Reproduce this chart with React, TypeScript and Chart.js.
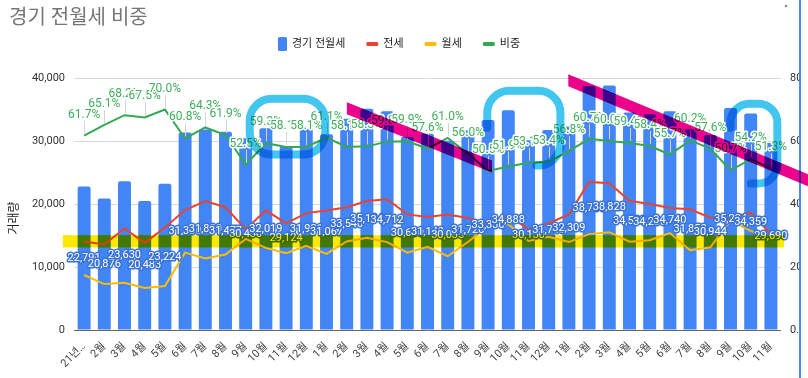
import React, { useEffect, useRef } from 'react';
import { Chart, registerables } from 'chart.js';

Chart.register(...registerables);

// ---------- data ----------
const categories = [
  '21년…', '2월', '3월', '4월', '5월', '6월', '7월', '8월', '9월', '10월', '11월', '12월',
  '1월', '2월', '3월', '4월', '5월', '6월', '7월', '8월', '9월', '10월', '11월', '12월',
  '1월', '2월', '3월', '4월', '5월', '6월', '7월', '8월', '9월', '10월', '11월',
];
const totalDeals = [
  22791, 20876, 23630, 20483, 23224, 31330, 31830, 31477, 30430, 32019, 29124, 31931,
  31067, 33540, 35134, 34712, 30630, 31140, 30035, 31720, 33330, 34888, 30130, 31740,
  32309, 38730, 38828, 34530, 34230, 34740, 31850, 30944, 35234, 34359, 29690,
];
const jeonseDeals = [
  14062, 13590, 16116, 13826, 16257, 19049, 20467, 19484, 15976, 18987, 16921, 18552,
  18982, 19487, 20483, 20758, 18347, 17937, 18321, 17763, 16832, 18107, 15999, 16949,
  18352, 23509, 23297, 20511, 19990, 19350, 19174, 17824, 17864, 18623, 15231,
];
const wolseDeals = [
  8729, 7286, 7514, 6657, 6967, 12281, 11363, 11993, 14454, 13032, 12203, 13379,
  12085, 14053, 14651, 13954, 12283, 13203, 11714, 13957, 16498, 16781, 14131, 14791,
  13957, 15221, 15531, 14019, 14240, 15390, 12676, 13120, 17370, 15736, 14459,
];
const jeonseShare = [
  61.7, 65.1, 68.2, 67.5, 70.0, 60.8, 64.3, 61.9, 52.5, 59.3, 58.1, 58.1,
  61.1, 58.1, 58.3, 59.8, 59.9, 57.6, 61.0, 56.0, 50.5, 51.9, 53.1, 53.4,
  56.8, 60.7, 60.0, 59.4, 58.4, 55.7, 60.2, 57.6, 50.7, 54.2, 51.3,
];
const leftTicks = [0, 10000, 20000, 30000, 40000];
const rightTicks = [0, 20, 40, 60, 80];

const chartTitle = '경기 전월세 비중';
const yAxisTitle = '거래량';
const seriesNames = ['경기 전월세', '전세', '월세', '비중'];

// hand-drawn highlight marks, in data space (category index, left-axis value)
const highlightBand = { from: -1.05, to: 34.65, low: 13100, high: 15050 };
const slashMarks = [
  { from: 13.01, to: 20.19, startValue: 35200, endValue: 25950 },
  { from: 23.97, to: 35.9, startValue: 39640, endValue: 23700 },
];
// loops: leftStart = value where the stroke starts on the left side, bottomEnd = index where it ends on the bottom
const circleMarks = [
  { from: 8.2, to: 11.94, top: 36700, bottom: 27850, leftStart: 27850, bottomEnd: 8.2 },
  { from: 19.96, to: 23.58, top: 37970, bottom: 26100, leftStart: 32100, bottomEnd: 22.4 },
  { from: 32.0, to: 34.32, top: 35900, bottom: 23260, leftStart: 32100, bottomEnd: 33.0 },
];

// ---------- styles ----------
const BLUE = '#4285f4';
const RED = '#ea4335';
const YELLOW = '#fbbc04';
const GREEN = '#34a853';
const FONT = 'Roboto, "Noto Sans CJK KR", sans-serif';

function roundedRectPath(ctx: CanvasRenderingContext2D, x0: number, y0: number, x1: number, y1: number, r: number) {
  ctx.beginPath();
  ctx.moveTo(x0 + r, y0);
  ctx.lineTo(x1 - r, y0);
  ctx.arcTo(x1, y0, x1, y0 + r, r);
  ctx.lineTo(x1, y1 - r);
  ctx.arcTo(x1, y1, x1 - r, y1, r);
  ctx.lineTo(x0 + r, y1);
  ctx.arcTo(x0, y1, x0, y1 - r, r);
  ctx.lineTo(x0, y0 + r);
  ctx.arcTo(x0, y0, x0 + r, y0, r);
  ctx.closePath();
}

const overlayPlugin = {
  id: 'overlay',
  afterDatasetsDraw(chart: any) {
    const ctx: CanvasRenderingContext2D = chart.ctx;
    const y = chart.scales.y;
    const barMeta = chart.getDatasetMeta(0);
    const shareMeta = chart.getDatasetMeta(3);
    ctx.save();
    ctx.lineJoin = 'round';
    ctx.textAlign = 'center';
    ctx.textBaseline = 'middle';
    // bar value labels (centered in bar)
    ctx.font = `11px ${FONT}`;
    totalDeals.forEach((v, i) => {
      const el = barMeta.data[i];
      const py = y.getPixelForValue(v / 2);
      const t = v.toLocaleString('en-US');
      ctx.lineWidth = 3;
      ctx.strokeStyle = '#3b73d6';
      ctx.strokeText(t, el.x, py);
      ctx.fillStyle = '#ffffff';
      ctx.fillText(t, el.x, py);
    });
    // share stems
    ctx.strokeStyle = '#d4d4d4';
    ctx.lineWidth = 1;
    jeonseShare.forEach((_, i) => {
      const pt = shareMeta.data[i];
      const sx = Math.round(pt.x) + 0.5;
      ctx.beginPath();
      ctx.moveTo(sx, pt.y - 2);
      ctx.lineTo(sx, pt.y - 15);
      ctx.stroke();
    });
    // share labels
    ctx.font = `12px ${FONT}`;
    jeonseShare.forEach((v, i) => {
      const pt = shareMeta.data[i];
      const t = v.toFixed(1) + '%';
      const ly = pt.y - 21;
      ctx.lineWidth = 3;
      ctx.strokeStyle = '#ffffff';
      ctx.strokeText(t, pt.x, ly);
      ctx.fillStyle = '#3fae5a';
      ctx.fillText(t, pt.x, ly);
    });
    ctx.restore();
  },
  afterDraw(chart: any) {
    const ctx: CanvasRenderingContext2D = chart.ctx;
    const xs = chart.scales.x;
    const ys = chart.scales.y;
    const W = chart.width;
    const H = chart.height;
    ctx.save();
    // title
    ctx.textAlign = 'left';
    ctx.textBaseline = 'middle';
    ctx.fillStyle = '#757575';
    ctx.font = `20px ${FONT}`;
    ctx.fillText(chartTitle, 9, 19);

    // legend
    ctx.font = `11px ${FONT}`;
    const colors = [BLUE, RED, YELLOW, GREEN];
    const iconW = [9, 12, 12, 12];
    const gapIcon = 5;
    const gapItem = 21;
    const widths = seriesNames.map((n, i) => iconW[i] + gapIcon + ctx.measureText(n).width);
    const total = widths.reduce((a, b) => a + b, 0) + gapItem * (seriesNames.length - 1);
    let lx = Math.round(W / 2 - total / 2) - 5;
    const ly = 44;
    seriesNames.forEach((n, i) => {
      ctx.fillStyle = colors[i];
      if (i === 0) {
        roundedRectPath(ctx, lx, ly - 7, lx + 9, ly + 7, 1.5);
        ctx.fill();
      } else {
        roundedRectPath(ctx, lx, ly - 2, lx + 12, ly + 2, 1.5);
        ctx.fill();
      }
      ctx.fillStyle = '#222';
      ctx.fillText(n, lx + iconW[i] + gapIcon, ly + 0.5);
      lx += widths[i] + gapItem;
    });

    // y axis title
    ctx.save();
    ctx.translate(15, 218);
    ctx.rotate(-Math.PI / 2);
    ctx.textAlign = 'center';
    ctx.font = `12px ${FONT}`;
    ctx.fillStyle = '#222';
    ctx.fillText(yAxisTitle, 0, 0);
    ctx.restore();

    // clipped right edge and frame line
    ctx.fillStyle = '#ffffff';
    ctx.fillRect(800, 0, W - 800, H);
    ctx.fillStyle = '#4a8af4';
    ctx.fillRect(799, 0, 2, H);
    ctx.fillStyle = '#888';
    ctx.beginPath();
    ctx.arc(786, 6, 1.2, 0, Math.PI * 2);
    ctx.fill();

    // hand-drawn marks (multiply like a highlighter)
    ctx.globalCompositeOperation = 'multiply';
    const px = (v: number) => xs.getPixelForValue(v);
    const py = (v: number) => ys.getPixelForValue(v);

    ctx.fillStyle = '#fde800';
    ctx.fillRect(px(highlightBand.from), py(highlightBand.high), px(highlightBand.to) - px(highlightBand.from), py(highlightBand.low) - py(highlightBand.high));

    ctx.strokeStyle = '#42c6f0';
    ctx.lineWidth = 8;
    ctx.lineJoin = 'round';
    ctx.lineCap = 'round';
    circleMarks.forEach((c) => {
      const x0 = px(c.from), x1 = px(c.to), y0 = py(c.top), y1 = py(c.bottom);
      const r = Math.min(22, (x1 - x0) / 2.5, (y1 - y0) / 2.5);
      const ys0 = Math.min(py(c.leftStart), y1 - r);
      const xe = Math.max(px(c.bottomEnd), x0 + r);
      ctx.beginPath();
      ctx.moveTo(x0, ys0);
      ctx.lineTo(x0, y0 + r);
      ctx.arcTo(x0, y0, x0 + r, y0, r);
      ctx.lineTo(x1 - r, y0);
      ctx.arcTo(x1, y0, x1, y0 + r, r);
      ctx.lineTo(x1, y1 - r);
      ctx.arcTo(x1, y1, x1 - r, y1, r);
      ctx.lineTo(xe, y1);
      if (c.bottomEnd <= c.from) {
        ctx.arcTo(x0, y1, x0, y1 - r, r);
        ctx.lineTo(x0, ys0);
      }
      ctx.stroke();
    });

    ctx.fillStyle = '#ec008c';
    const half = 6;
    slashMarks.forEach((s) => {
      const x0 = px(s.from), x1 = px(s.to), y0 = py(s.startValue), y1 = py(s.endValue);
      ctx.beginPath();
      ctx.moveTo(x0, y0 - half);
      ctx.lineTo(x1, y1 - half);
      ctx.lineTo(x1, y1 + half);
      ctx.lineTo(x0, y0 + half);
      ctx.closePath();
      ctx.fill();
    });
    ctx.restore();
  },
};

export default function App() {
  const canvasRef = useRef<HTMLCanvasElement | null>(null);

  useEffect(() => {
    const canvas = canvasRef.current;
    if (!canvas) return;
    const tickFont = { family: FONT, size: 11 };
    const chart = new Chart(canvas, {
      data: {
        labels: categories,
        datasets: [
          {
            type: 'bar',
            label: seriesNames[0],
            data: totalDeals,
            backgroundColor: BLUE,
            borderRadius: { topLeft: 2, topRight: 2, bottomLeft: 0, bottomRight: 0 },
            borderSkipped: false,
            barPercentage: 0.64,
            categoryPercentage: 1,
            yAxisID: 'y',
            order: 3,
          },
          {
            type: 'line',
            label: seriesNames[1],
            data: jeonseDeals,
            borderColor: RED,
            backgroundColor: RED,
            borderWidth: 2,
            pointRadius: 0,
            tension: 0,
            yAxisID: 'y',
            order: 1,
          },
          {
            type: 'line',
            label: seriesNames[2],
            data: wolseDeals,
            borderColor: YELLOW,
            backgroundColor: YELLOW,
            borderWidth: 2,
            pointRadius: 0,
            tension: 0,
            yAxisID: 'y',
            order: 2,
          },
          {
            type: 'line',
            label: seriesNames[3],
            data: jeonseShare,
            borderColor: GREEN,
            backgroundColor: GREEN,
            borderWidth: 2,
            pointRadius: 0,
            tension: 0,
            yAxisID: 'y1',
            order: 0,
          },
        ],
      } as any,
      options: {
        responsive: false,
        animation: false,
        events: [],
        layout: { padding: { top: 78, left: 0, right: 0, bottom: 0 } },
        plugins: {
          legend: { display: false },
          title: { display: false },
          tooltip: { enabled: false },
        },
        scales: {
          x: {
            grid: { display: false },
            border: { display: false },
            ticks: {
              autoSkip: false,
              maxRotation: 45,
              minRotation: 45,
              color: '#444',
              font: tickFont,
              padding: 2,
            },
            afterFit: (s: any) => { s.height = 48; },
          },
          y: {
            position: 'left',
            min: leftTicks[0],
            max: leftTicks[leftTicks.length - 1],
            afterBuildTicks: (s: any) => { s.ticks = leftTicks.map((v) => ({ value: v })); },
            ticks: {
              color: '#333',
              font: tickFont,
              padding: 9,
              callback: (v: any) => Number(v).toLocaleString('en-US'),
            },
            grid: {
              drawTicks: false,
              color: (c: any) => (c.tick && c.tick.value === 0 ? '#666' : '#d9d9d9'),
            },
            border: { display: false },
            afterFit: (s: any) => { s.width = 74; },
          },
          y1: {
            position: 'right',
            min: rightTicks[0],
            max: rightTicks[rightTicks.length - 1],
            afterBuildTicks: (s: any) => { s.ticks = rightTicks.map((v) => ({ value: v })); },
            ticks: {
              color: '#333',
              font: tickFont,
              padding: 9,
              callback: (v: any) => Number(v).toFixed(1),
            },
            grid: { display: false, drawTicks: false },
            border: { display: false },
            afterFit: (s: any) => { s.width = 27; },
          },
        },
      } as any,
      plugins: [overlayPlugin],
    });
    return () => chart.destroy();
  }, []);

  return (
    <div style={{ position: 'fixed', left: 0, top: 0, width: 808, height: 378, background: '#fff' }}>
      <canvas ref={canvasRef} width={808} height={378} style={{ display: 'block', width: 808, height: 378 }} />
    </div>
  );
}
